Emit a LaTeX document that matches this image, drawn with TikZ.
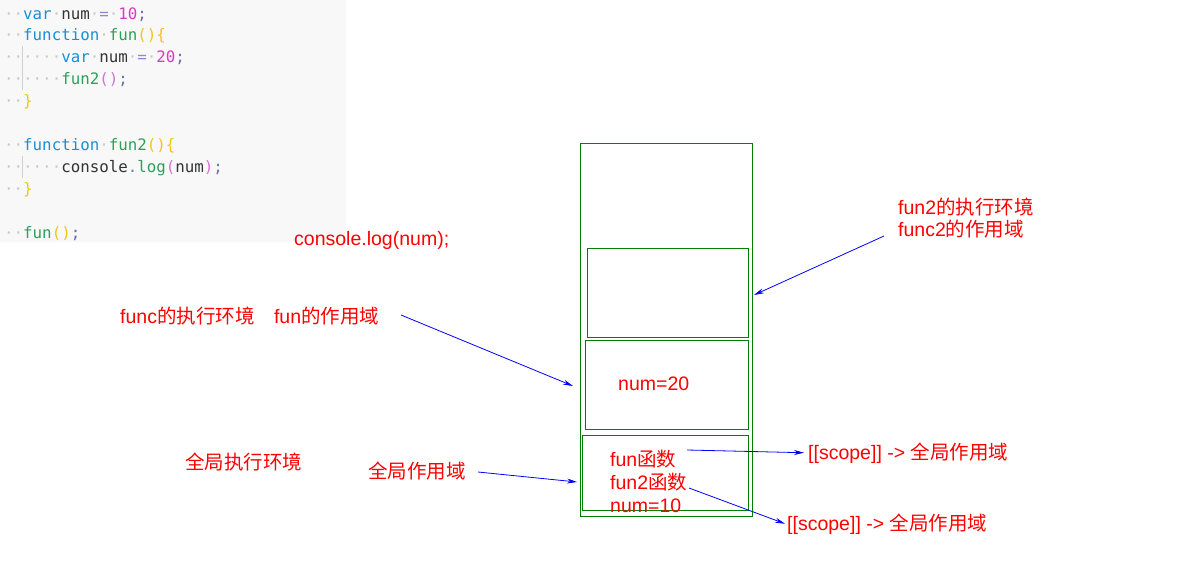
\documentclass[tikz,border=0pt]{standalone}
\usepackage{fontspec}
\setmainfont{Liberation Sans}
\newfontfamily\cjk{Noto Sans CJK SC}
\newfontfamily\codeFont{DejaVu Sans Mono}
\usetikzlibrary{arrows.meta}
\definecolor{stackColor}{RGB}{0,128,0}
\definecolor{noteColor}{RGB}{255,0,0}
\definecolor{arrowColor}{RGB}{0,0,255}
\definecolor{codeBack}{RGB}{248,248,248}
\definecolor{guideColor}{RGB}{208,208,208}
\definecolor{dotColor}{RGB}{200,200,200}
\definecolor{kwColor}{HTML}{1A8FD6}
\definecolor{fnColor}{HTML}{2AA05A}
\definecolor{idColor}{HTML}{333333}
\definecolor{opColor}{HTML}{8A8AD8}
\definecolor{numColor}{HTML}{D63AC8}
\definecolor{semiColor}{HTML}{6C6CB0}
\definecolor{parenA}{HTML}{F5C518}
\definecolor{parenB}{HTML}{DA70D6}
\definecolor{dotOpColor}{HTML}{5C7DD6}
\newcommand{\zh}[1]{{\cjk #1}}
\newcommand{\wsDot}{\textcolor{dotColor}{·}}
\newcommand{\kw}[1]{\textcolor{kwColor}{#1}}
\newcommand{\fn}[1]{\textcolor{fnColor}{#1}}
\newcommand{\ident}[1]{\textcolor{idColor}{#1}}
\newcommand{\op}[1]{\textcolor{opColor}{#1}}
\newcommand{\numLit}[1]{\textcolor{numColor}{#1}}
\newcommand{\semi}{\textcolor{semiColor}{;}}
\newcommand{\pa}[1]{\textcolor{parenA}{#1}}
\newcommand{\pb}[1]{\textcolor{parenB}{#1}}
\newcommand{\noteSize}{\fontsize{19.5}{23}\selectfont}
\newcommand{\codeSize}{\codeFont\fontsize{15.8}{22}\selectfont}
\tikzstyle{frameBox} = [draw=stackColor, line width=1pt, anchor=north west, inner sep=0pt]
\tikzstyle{noteText} = [text=noteColor, font=\noteSize, anchor=base west, inner sep=0pt]
\tikzstyle{codeLine} = [font=\codeSize, anchor=base west, inner sep=0pt]
\tikzstyle{pointer} = [draw=arrowColor, line width=0.8pt, -{Stealth[length=10pt,width=5pt]}]
\tikzstyle{guideLine} = [color=guideColor, line width=1pt]
\begin{document}
\begin{tikzpicture}[x=1pt, y=-1pt]
  \useasboundingbox (0,0) rectangle (1182,562);
  % code panel
  \fill[codeBack] (0,0) rectangle (346,242);
  \draw[guideLine] (22,46) -- (22,90);
  \draw[guideLine] (22,156) -- (22,178);
  \node[codeLine] (code1) at (4,19) {\wsDot\wsDot\kw{var}\wsDot\ident{num}\wsDot\op{=}\wsDot\numLit{10}\semi};
  \node[codeLine] (code2) at (4,40) {\wsDot\wsDot\kw{function}\wsDot\fn{fun}\pa{()\{}};
  \node[codeLine] (code3) at (4,62) {\wsDot\wsDot\wsDot\wsDot\wsDot\wsDot\kw{var}\wsDot\ident{num}\wsDot\op{=}\wsDot\numLit{20}\semi};
  \node[codeLine] (code4) at (4,84) {\wsDot\wsDot\wsDot\wsDot\wsDot\wsDot\fn{fun2}\pb{()}\semi};
  \node[codeLine] (code5) at (4,106) {\wsDot\wsDot\pa{\}}};
  \node[codeLine] (code7) at (4,150) {\wsDot\wsDot\kw{function}\wsDot\fn{fun2}\pa{()\{}};
  \node[codeLine] (code8) at (4,172) {\wsDot\wsDot\wsDot\wsDot\wsDot\wsDot\ident{console}\textcolor{dotOpColor}{.}\fn{log}\pb{(}\ident{num}\pb{)}\semi};
  \node[codeLine] (code9) at (4,194) {\wsDot\wsDot\pa{\}}};
  \node[codeLine] (code11) at (4,238) {\wsDot\wsDot\fn{fun}\pa{()}\semi};

  % call stack
  \node[frameBox, minimum width=172pt, minimum height=373pt] (stack) at (580,143) {};
  \node[frameBox, minimum width=161pt, minimum height=89pt] (fun2Frame) at (587,248) {};
  \node[frameBox, minimum width=163pt, minimum height=89pt] (funFrame) at (585,340) {};
  \node[frameBox, minimum width=166pt, minimum height=75pt] (globalFrame) at (582,435) {};

  \node[noteText] (num20) at (618,390) {num=20};
  \node[noteText] (funDecl) at (610,466) {fun\zh{函数}};
  \node[noteText] (fun2Decl) at (610,489) {fun2\zh{函数}};
  \node[noteText] (num10) at (610,512) {num=10};

  % labels
  \node[noteText] (logCall) at (294,245) {console.log(num);};
  \node[noteText] (funcEnv) at (120,323) {func\zh{的执行环境}\quad fun\zh{的作用域}};
  \node[noteText] (globalEnv) at (185,469) {\zh{全局执行环境}};
  \node[noteText] (globalScope) at (368,478) {\zh{全局作用域}};
  \node[noteText] (fun2Env) at (898,214) {fun2\zh{的执行环境}};
  \node[noteText] (fun2Scope) at (898,236) {func2\zh{的作用域}};
  \node[noteText] (scopeA) at (808,459) {[[scope]] -> \zh{全局作用域}};
  \node[noteText] (scopeB) at (787,530) {[[scope]] -> \zh{全局作用域}};

  % pointers
  \coordinate (funcPtr) at (401,315);
  \coordinate (funcTip) at (573,386);
  \coordinate (fun2Ptr) at (884,236);
  \coordinate (fun2Tip) at (754,295);
  \coordinate (globalPtr) at (478,472);
  \coordinate (globalTip) at (577,482);
  \coordinate (funPtr) at (687,450);
  \coordinate (fun2FnPtr) at (689,488);
  \draw[pointer] (funcPtr) -- (funcTip);
  \draw[pointer] (fun2Ptr) -- (fun2Tip);
  \draw[pointer] (globalPtr) -- (globalTip);
  \draw[pointer] (funPtr) -- ([xshift=-4pt]scopeA.west);
  \draw[pointer] (fun2FnPtr) -- ([xshift=-2pt]scopeB.west);
\end{tikzpicture}
\end{document}
